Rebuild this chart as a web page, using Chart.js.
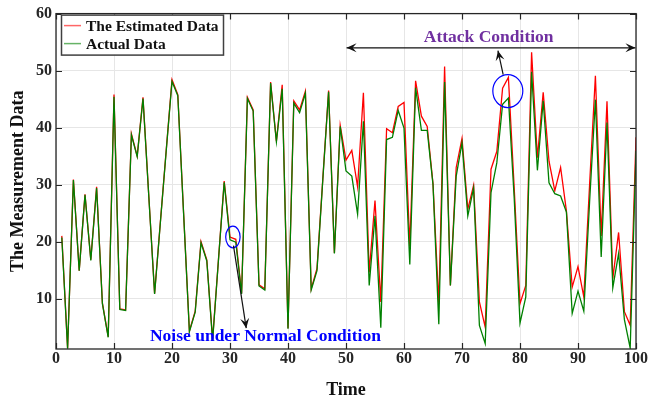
<!DOCTYPE html>
<html><head><meta charset="utf-8">
<script src="https://cdn.jsdelivr.net/npm/chart.js@4.4.1/dist/chart.umd.min.js"></script>
<style>html,body{margin:0;padding:0;background:#fff;}#wrap{width:665px;height:398px;}</style>
</head><body><div id="wrap"><canvas id="c" width="665" height="398"></canvas></div>
<script>
const timeSteps = [1,2,3,4,5,6,7,8,9,10,11,12,13,14,15,16,17,18,19,20,21,22,23,24,25,26,27,28,29,30,31,32,33,34,35,36,37,38,39,40,41,42,43,44,45,46,47,48,49,50,51,52,53,54,55,56,57,58,59,60,61,62,63,64,65,66,67,68,69,70,71,72,73,74,75,76,77,78,79,80,81,82,83,84,85,86,87,88,89,90,91,92,93,94,95,96,97,98,99,100];
const estimatedData = [21.0,1.3,30.9,14.9,28.3,16.8,29.6,9.2,3.3,45.8,8.2,8.0,38.9,35.0,45.3,28.0,10.9,23.5,36.0,48.4,45.8,25.0,4.3,7.8,20.0,16.8,2.8,16.7,30.6,20.8,20.4,10.9,45.3,43.1,12.4,11.7,48.0,37.6,47.5,4.8,44.7,43.1,46.4,11.7,15.3,31.0,46.5,18.0,40.4,34.3,36.0,29.6,46.1,14.6,27.2,9.4,39.8,39.1,43.7,44.4,19.2,48.2,42.0,40.2,30.2,9.0,50.7,12.3,33.0,38.1,25.7,29.9,9.4,5.0,32.7,35.8,46.9,48.8,29.4,9.1,12.3,53.2,34.7,46.2,34.1,28.9,33.0,25.4,12.0,15.6,10.3,30.0,49.1,21.0,44.6,13.5,21.6,7.7,5.3,38.3];
const actualData = [20.7,1.2,30.8,14.9,28.2,16.7,29.4,9.1,3.2,45.4,8.1,7.9,38.7,34.9,45.1,27.9,10.8,23.4,35.9,48.1,45.6,24.9,4.2,7.6,19.8,16.6,2.6,16.6,30.4,20.3,19.9,10.8,45.1,42.9,12.2,11.5,47.8,37.5,46.8,4.7,44.3,42.6,46.0,11.5,14.9,30.8,46.3,17.9,40.2,32.4,31.5,24.8,41.1,12.3,24.5,4.9,37.9,38.3,43.0,39.9,16.0,47.0,39.5,39.5,30.0,5.5,48.0,12.3,31.5,37.3,24.5,29.4,5.3,2.1,28.6,33.8,44.1,45.2,27.6,5.7,10.3,49.8,32.5,44.7,30.3,28.4,28.0,25.2,7.4,11.3,7.8,27.0,44.9,17.3,40.9,11.9,17.9,6.3,1.3,35.9];
const xTicks = [0,10,20,30,40,50,60,70,80,90,100];
const yTicks = [10,20,30,40,50,60];
const seriesNames = ['The Estimated Data','Actual Data'];
const seriesColors = ['#ff0000','#008000'];

const FONT = '"Liberation Serif","Times New Roman",serif';

function arrowHead(ctx, x1, y1, x2, y2, len, w) {
  const dx = x2 - x1, dy = y2 - y1, L = Math.hypot(dx, dy);
  const ux = dx / L, uy = dy / L, nx = -uy, ny = ux;
  ctx.beginPath();
  ctx.moveTo(x2, y2);
  ctx.lineTo(x2 - ux * len + nx * w, y2 - uy * len + ny * w);
  ctx.lineTo(x2 - ux * len * 0.6, y2 - uy * len * 0.6);
  ctx.lineTo(x2 - ux * len - nx * w, y2 - uy * len - ny * w);
  ctx.closePath();
  ctx.fill();
}
function arrow(ctx, x1, y1, x2, y2) {
  ctx.beginPath(); ctx.moveTo(x1, y1); ctx.lineTo(x2, y2); ctx.stroke();
  arrowHead(ctx, x1, y1, x2, y2, 10, 4.5);
}

const decor = {
  id: 'decor',
  afterDraw(chart) {
    const ctx = chart.ctx, a = chart.chartArea, xs = chart.scales.x, ys = chart.scales.y;
    ctx.save();
    ctx.strokeStyle = '#262626'; ctx.lineWidth = 1.3;
    ctx.strokeRect(a.left, a.top, a.right - a.left, a.bottom - a.top);
    ctx.lineWidth = 1.2;
    ctx.beginPath();
    xTicks.forEach(v => {
      const p = Math.round(xs.getPixelForValue(v)) + 0.5;
      ctx.moveTo(p, a.bottom); ctx.lineTo(p, a.bottom - 6);
      ctx.moveTo(p, a.top); ctx.lineTo(p, a.top + 6);
    });
    yTicks.forEach(v => {
      const p = Math.round(ys.getPixelForValue(v)) + 0.5;
      ctx.moveTo(a.left, p); ctx.lineTo(a.left + 6, p);
      ctx.moveTo(a.right, p); ctx.lineTo(a.right - 6, p);
    });
    ctx.stroke();

    const lx = a.left + 5, ly = a.top + 1, lw = 162, lh = 40;
    ctx.fillStyle = '#fff'; ctx.fillRect(lx, ly, lw, lh);
    ctx.strokeStyle = '#404040'; ctx.lineWidth = 1.5;
    ctx.strokeRect(lx + 0.5, ly + 0.5, lw, lh);
    ctx.font = 'bold 15.5px ' + FONT; ctx.textBaseline = 'middle'; ctx.textAlign = 'left';
    seriesNames.forEach((n, i) => {
      const yy = ly + 11 + i * 18;
      ctx.strokeStyle = seriesColors[i]; ctx.lineWidth = 1.5;
      ctx.globalAlpha = 0.6;
      ctx.beginPath(); ctx.moveTo(lx + 3, yy); ctx.lineTo(lx + 20, yy); ctx.stroke();
      ctx.globalAlpha = 1;
      ctx.fillStyle = '#111';
      ctx.fillText(n, lx + 25, yy + 1);
    });

    ctx.strokeStyle = '#111'; ctx.fillStyle = '#111'; ctx.lineWidth = 1.3;
    const ay = ys.getPixelForValue(54);
    const ax1 = xs.getPixelForValue(50.1), ax2 = xs.getPixelForValue(99.9);
    ctx.beginPath(); ctx.moveTo(ax1, ay); ctx.lineTo(ax2, ay); ctx.stroke();
    arrowHead(ctx, ax2, ay, ax1, ay, 10, 4.5);
    arrowHead(ctx, ax1, ay, ax2, ay, 10, 4.5);
    ctx.font = 'bold 17.5px ' + FONT; ctx.textAlign = 'center'; ctx.fillStyle = '#7030a0';
    ctx.fillText('Attack Condition', xs.getPixelForValue(74.6), ys.getPixelForValue(55.8));

    ctx.strokeStyle = '#0000ff'; ctx.lineWidth = 1.2;
    ctx.beginPath(); ctx.ellipse(xs.getPixelForValue(77.9), ys.getPixelForValue(46.4), 15, 16.5, 0, 0, Math.PI * 2); ctx.stroke();
    ctx.strokeStyle = '#111'; ctx.fillStyle = '#111'; ctx.lineWidth = 1.2;
    arrow(ctx, xs.getPixelForValue(77.1), ys.getPixelForValue(49.3), xs.getPixelForValue(76.2), ys.getPixelForValue(53.5));

    ctx.strokeStyle = '#0000ff';
    ctx.beginPath(); ctx.ellipse(xs.getPixelForValue(30.5), ys.getPixelForValue(20.8), 7.2, 10.8, 0, 0, Math.PI * 2); ctx.stroke();
    ctx.strokeStyle = '#111';
    arrow(ctx, xs.getPixelForValue(30.6), ys.getPixelForValue(19.3), xs.getPixelForValue(32.8), ys.getPixelForValue(4.8));
    ctx.font = 'bold 17.5px ' + FONT; ctx.textAlign = 'left'; ctx.fillStyle = '#0000ff';
    ctx.fillText('Noise under Normal Condition', xs.getPixelForValue(16.2), ys.getPixelForValue(3.4));
    ctx.restore();
  }
};

new Chart(document.getElementById('c'), {
  type: 'line',
  data: {
    datasets: [
      { label: seriesNames[1], data: timeSteps.map((t, i) => ({ x: t, y: actualData[i] })), borderColor: seriesColors[1], borderWidth: 1.3, pointRadius: 0, tension: 0, fill: false },
      { label: seriesNames[0], data: timeSteps.map((t, i) => ({ x: t, y: estimatedData[i] })), borderColor: seriesColors[0], borderWidth: 1.3, pointRadius: 0, tension: 0, fill: false }
    ]
  },
  options: {
    responsive: false, animation: false, devicePixelRatio: 1,
    layout: { padding: { top: 12, right: 29, left: 0, bottom: 0 } },
    plugins: { legend: { display: false }, tooltip: { enabled: false } },
    scales: {
      x: {
        type: 'linear', min: 0, max: 100,
        afterBuildTicks: s => { s.ticks = xTicks.map(v => ({ value: v })); },
        afterFit: s => { s.height = 49; },
        grid: { color: '#e6e6e6', drawTicks: false, lineWidth: 1 },
        border: { display: false },
        ticks: { font: { family: FONT, size: 16, weight: 'bold' }, color: '#262626', padding: 0, maxRotation: 0, autoSkip: false },
        title: { display: true, text: 'Time', font: { family: FONT, size: 18, weight: 'bold' }, color: '#111', padding: { top: 0, bottom: -3 } }
      },
      y: {
        min: 1.15, max: 60,
        afterBuildTicks: s => { s.ticks = yTicks.map(v => ({ value: v })); },
        afterFit: s => { s.width = 56; },
        grid: { color: '#e6e6e6', drawTicks: false, lineWidth: 1 },
        border: { display: false },
        ticks: { font: { family: FONT, size: 16, weight: 'bold' }, color: '#262626', padding: 4, autoSkip: false },
        title: { display: true, text: 'The Measurement Data', font: { family: FONT, size: 18, weight: 'bold' }, color: '#111', padding: { top: 8, bottom: 0 } }
      }
    }
  },
  plugins: [decor]
});
</script>
</body></html>
